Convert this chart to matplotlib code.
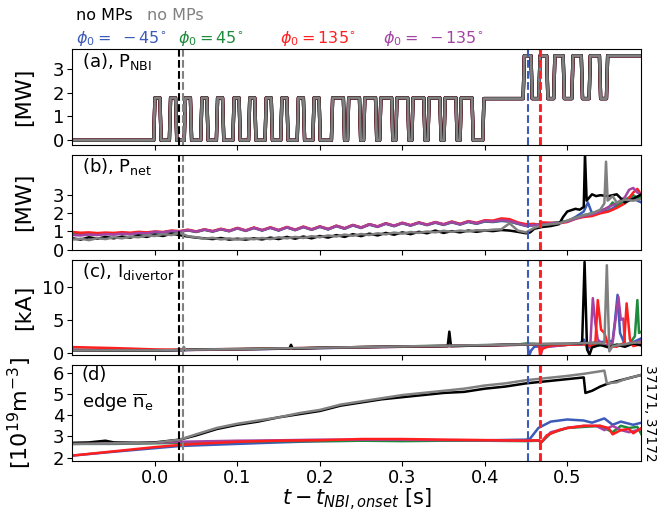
import matplotlib
matplotlib.use("Agg")
import matplotlib.pyplot as plt

# colours per shot
c_blue = "#3c5ab8"
c_green = "#1e8a3c"
c_red = "#ff1f1f"
c_mag = "#a443a4"
c_black = "black"
c_gray = "gray"

# --- (a) NBI power: pulse on/off times [s] ---
nbi_on1 = [0.000, 0.019, 0.037, 0.057, 0.076, 0.096, 0.115, 0.135, 0.154, 0.174, 0.193,
           0.2155, 0.235, 0.2545, 0.274, 0.2935, 0.313, 0.3325, 0.352, 0.3715]
nbi_off1 = [0.006, 0.025, 0.043, 0.063, 0.082, 0.102, 0.121, 0.141, 0.160, 0.180, 0.199,
            0.2285, 0.248, 0.2675, 0.287, 0.3065, 0.326, 0.3455, 0.365, 0.3845]
nbi_hi1 = 1.78
nbi_mid = 1.75
nbi_plateau_start = 0.399
nbi_on2 = [0.448, 0.467, 0.485, 0.507, 0.528]
nbi_off2 = [0.456, 0.475, 0.495, 0.517, 0.539]
nbi_hi2 = 3.55
nbi_final_start = 0.549

# --- shared time base for (b) [s] ---
t_main = [-0.10, -0.09, -0.08, -0.07, -0.06, -0.05, -0.04, -0.03, -0.02, -0.01,
          0.00, 0.01, 0.02, 0.03, 0.04, 0.05, 0.06, 0.07, 0.08, 0.09,
          0.10, 0.11, 0.12, 0.13, 0.14, 0.15, 0.16, 0.17, 0.18, 0.19,
          0.20, 0.21, 0.22, 0.23, 0.24, 0.25, 0.26, 0.27, 0.28, 0.29,
          0.30, 0.31, 0.32, 0.33, 0.34, 0.35, 0.36, 0.37, 0.38, 0.39,
          0.40, 0.41, 0.42, 0.43, 0.44]

# --- (b) P_net [MW] ---
pnet_red = [0.97, 0.93, 0.95, 0.91, 0.94, 0.92, 0.96, 0.93, 0.98, 0.95,
            1.00, 0.97, 1.05, 1.02, 1.10, 1.00, 1.12, 1.02, 1.15, 1.04,
            1.20, 1.06, 1.22, 1.08, 1.23, 1.08, 1.25, 1.10, 1.27, 1.12,
            1.28, 1.14, 1.32, 1.18, 1.36, 1.22, 1.40, 1.28, 1.45, 1.32,
            1.48, 1.35, 1.50, 1.38, 1.52, 1.40, 1.55, 1.42, 1.57, 1.48,
            1.62, 1.60, 1.72, 1.68, 1.50]
pnet_red_tt = [0.45, 0.46, 0.465, 0.47, 0.48, 0.49, 0.50, 0.51, 0.52, 0.53, 0.54, 0.55,
               0.56, 0.57, 0.575, 0.58, 0.585, 0.59]
pnet_red_tv = [1.40, 1.42, 1.35, 1.50, 1.48, 1.45, 1.52, 1.70, 1.80, 1.85, 2.00, 2.10,
               2.30, 2.55, 2.85, 3.15, 3.35, 3.00]

pnet_blue = [0.85, 0.82, 0.86, 0.83, 0.87, 0.84, 0.88, 0.86, 0.90, 0.88,
             0.95, 0.93, 1.00, 0.98, 1.06, 0.97, 1.09, 0.99, 1.12, 1.01,
             1.17, 1.03, 1.19, 1.05, 1.20, 1.05, 1.22, 1.07, 1.24, 1.09,
             1.25, 1.11, 1.29, 1.15, 1.33, 1.19, 1.37, 1.25, 1.42, 1.29,
             1.45, 1.32, 1.47, 1.35, 1.48, 1.36, 1.50, 1.38, 1.52, 1.42,
             1.55, 1.52, 1.58, 1.55, 1.42]
pnet_blue_tt = [0.45, 0.46, 0.47, 0.48, 0.49, 0.50, 0.51, 0.515, 0.52, 0.525, 0.53,
                0.54, 0.55, 0.56, 0.57, 0.58, 0.585, 0.59]
pnet_blue_tv = [1.30, 1.35, 1.40, 1.45, 1.50, 1.55, 1.80, 1.95, 2.10, 2.60, 2.00,
                2.05, 2.15, 2.40, 2.70, 2.85, 2.70, 2.60]

pnet_green = [0.88, 0.85, 0.88, 0.86, 0.89, 0.87, 0.90, 0.88, 0.92, 0.90,
              0.97, 0.95, 1.02, 0.99, 1.07, 0.98, 1.10, 1.00, 1.13, 1.02,
              1.18, 1.04, 1.20, 1.06, 1.21, 1.06, 1.23, 1.08, 1.25, 1.10,
              1.27, 1.12, 1.31, 1.16, 1.35, 1.21, 1.40, 1.27, 1.45, 1.30,
              1.47, 1.33, 1.49, 1.36, 1.50, 1.38, 1.52, 1.40, 1.54, 1.44,
              1.57, 1.54, 1.60, 1.56, 1.44]
pnet_green_tt = [0.45, 0.46, 0.47, 0.48, 0.49, 0.50, 0.51, 0.52, 0.53, 0.54, 0.55,
                 0.555, 0.56, 0.57, 0.58, 0.585, 0.59]
pnet_green_tv = [1.32, 1.36, 1.42, 1.46, 1.50, 1.58, 1.75, 1.90, 2.00, 2.15, 2.30,
                 2.60, 2.40, 2.75, 3.00, 2.85, 2.90]

pnet_mag = [0.80, 0.78, 0.83, 0.80, 0.85, 0.83, 0.88, 0.85, 0.92, 0.90,
            0.98, 0.95, 1.03, 1.00, 1.08, 0.99, 1.11, 1.01, 1.13, 1.03,
            1.18, 1.05, 1.20, 1.07, 1.21, 1.07, 1.23, 1.09, 1.25, 1.11,
            1.27, 1.13, 1.31, 1.17, 1.35, 1.21, 1.40, 1.27, 1.44, 1.31,
            1.47, 1.34, 1.49, 1.37, 1.51, 1.39, 1.53, 1.40, 1.55, 1.45,
            1.58, 1.55, 1.62, 1.58, 1.45]
pnet_mag_tt = [0.45, 0.46, 0.47, 0.48, 0.49, 0.50, 0.51, 0.52, 0.53, 0.54, 0.55,
               0.56, 0.57, 0.575, 0.58, 0.585, 0.59]
pnet_mag_tv = [1.32, 1.36, 1.38, 1.45, 1.48, 1.55, 1.70, 1.85, 1.95, 2.10, 2.35,
               2.55, 2.90, 3.30, 3.40, 3.15, 3.05]

pnet_black = [0.62, 0.55, 0.68, 0.60, 0.70, 0.62, 0.72, 0.66, 0.78, 0.70,
              0.82, 0.75, 0.88, 0.80, 0.72, 0.66, 0.62, 0.58, 0.64, 0.55,
              0.60, 0.55, 0.62, 0.56, 0.66, 0.58, 0.70, 0.60, 0.72, 0.62,
              0.75, 0.66, 0.80, 0.70, 0.85, 0.74, 0.88, 0.78, 0.92, 0.82,
              0.95, 0.85, 0.98, 0.90, 1.05, 0.92, 1.02, 0.95, 1.05, 0.98,
              1.05, 1.02, 1.08, 1.05, 0.98]
pnet_black_tt = [0.45, 0.455, 0.46, 0.47, 0.48, 0.49, 0.495, 0.50, 0.51, 0.515, 0.52,
                 0.5215, 0.5235, 0.53, 0.535, 0.54, 0.55, 0.56, 0.57, 0.58, 0.59]
pnet_black_tv = [0.90, 0.95, 1.15, 1.25, 1.30, 1.40, 1.80, 2.10, 2.25, 2.20, 2.35,
                 5.30, 2.70, 3.05, 2.95, 3.00, 2.95, 3.05, 2.60, 2.80, 3.05]

pnet_gray = [0.55, 0.60, 0.52, 0.63, 0.58, 0.68, 0.62, 0.72, 0.68, 0.78,
             0.75, 0.85, 0.80, 0.92, 0.74, 0.68, 0.60, 0.65, 0.56, 0.62,
             0.55, 0.62, 0.57, 0.64, 0.58, 0.68, 0.62, 0.70, 0.64, 0.74,
             0.68, 0.78, 0.72, 0.83, 0.76, 0.86, 0.80, 0.90, 0.84, 0.94,
             0.88, 0.97, 0.92, 1.00, 0.95, 1.04, 0.98, 1.05, 1.00, 1.07,
             1.05, 1.10, 1.12, 1.45, 1.05]
pnet_gray_tt = [0.45, 0.46, 0.47, 0.48, 0.49, 0.50, 0.51, 0.52, 0.53, 0.54, 0.545,
                0.547, 0.549, 0.555, 0.56, 0.57, 0.58, 0.59]
pnet_gray_tv = [0.95, 1.20, 1.35, 1.40, 1.45, 1.60, 1.75, 1.90, 2.00, 2.20, 2.55,
                4.85, 2.70, 2.95, 2.60, 2.75, 2.70, 2.80]

# --- (c) divertor current [kA] ---
idiv_blue_t = [-0.10, -0.05, 0.00, 0.03, 0.05, 0.10, 0.15, 0.20, 0.25, 0.30, 0.35, 0.40, 0.44,
               0.452, 0.4535, 0.456, 0.46, 0.48, 0.50, 0.515, 0.52, 0.525, 0.53, 0.54, 0.555,
               0.558, 0.561, 0.564, 0.57, 0.58, 0.59]
idiv_blue = [0.45, 0.40, 0.35, 0.40, 0.45, 0.50, 0.60, 0.70, 0.80, 0.90, 1.00, 1.10, 1.20,
             1.30, -0.60, 0.30, 0.90, 1.10, 1.20, 1.40, 2.00, 0.50, 1.50, 1.60, 1.80,
             5.00, 8.80, 3.00, 1.20, 1.60, 2.20]
idiv_green_t = [-0.10, -0.05, 0.00, 0.03, 0.05, 0.10, 0.15, 0.20, 0.25, 0.30, 0.35, 0.40, 0.44,
                0.45, 0.467, 0.47, 0.50, 0.52, 0.54, 0.56, 0.575, 0.582, 0.585, 0.587, 0.59]
idiv_green = [0.40, 0.38, 0.35, 0.40, 0.45, 0.52, 0.62, 0.72, 0.85, 0.95, 1.05, 1.15, 1.25,
              1.40, 1.30, 0.90, 1.20, 1.30, 1.10, 1.20, 1.30, 2.50, 8.00, 3.00, 3.20]
idiv_mag_t = [-0.10, -0.05, 0.00, 0.03, 0.05, 0.10, 0.15, 0.20, 0.25, 0.30, 0.35, 0.40, 0.44,
              0.466, 0.468, 0.47, 0.50, 0.528, 0.531, 0.534, 0.537, 0.545, 0.555, 0.562,
              0.565, 0.568, 0.57, 0.58, 0.59]
idiv_mag = [0.35, 0.33, 0.32, 0.38, 0.42, 0.50, 0.60, 0.70, 0.82, 0.92, 1.02, 1.12, 1.22,
            1.20, -0.30, 0.80, 1.20, 1.30, 8.30, 4.50, 2.00, 1.00, 1.50, 8.50,
            5.00, 5.20, 1.00, 1.50, 1.80]
idiv_red_t = [-0.10, -0.05, 0.00, 0.03, 0.05, 0.10, 0.15, 0.20, 0.25, 0.30, 0.35, 0.40, 0.44,
              0.45, 0.46, 0.466, 0.467, 0.47, 0.48, 0.50, 0.52, 0.53, 0.534, 0.537, 0.541,
              0.545, 0.55, 0.56, 0.569, 0.572, 0.576, 0.58, 0.59]
idiv_red = [0.85, 0.70, 0.50, 0.45, 0.50, 0.55, 0.65, 0.75, 0.85, 0.90, 1.00, 1.10, 1.20,
            1.25, 1.30, 1.20, -0.40, 0.60, 1.10, 1.20, 1.30, 0.90, 1.30, 8.00, 3.50,
            3.00, 1.00, 0.90, 1.50, 7.50, 2.00, 1.00, 1.30]
idiv_black_t = [-0.10, -0.05, 0.00, 0.03, 0.05, 0.10, 0.163, 0.165, 0.167, 0.20, 0.25, 0.30,
                0.355, 0.357, 0.359, 0.40, 0.44, 0.46, 0.50, 0.518, 0.521, 0.524, 0.527,
                0.53, 0.54, 0.55, 0.56, 0.57, 0.58, 0.59]
idiv_black = [0.35, 0.30, 0.30, 0.40, 0.50, 0.55, 0.62, 1.20, 0.62, 0.75, 0.85, 0.95,
              1.00, 3.20, 1.00, 1.10, 1.25, 1.30, 1.35, 1.40, 13.8, 0.50, -0.30,
              0.80, 1.20, 0.80, 1.20, 0.90, 1.40, 1.10]
idiv_gray_t = [-0.10, -0.05, 0.00, 0.033, 0.035, 0.037, 0.10, 0.15, 0.20, 0.25, 0.30, 0.35,
               0.40, 0.44, 0.50, 0.53, 0.545, 0.548, 0.551, 0.555, 0.57, 0.58, 0.59]
idiv_gray = [0.35, 0.35, 0.35, 0.40, 0.90, 0.45, 0.55, 0.65, 0.75, 0.85, 0.95, 1.05,
             1.15, 1.25, 1.35, 1.50, 1.40, 13.3, 0.20, 1.00, 1.30, 1.50, 1.60]

# --- (d) edge line-averaged density [1e19 m^-3] ---
ne_black_t = [-0.10, -0.08, -0.06, -0.05, -0.02, 0.00, 0.03, 0.05, 0.075, 0.10, 0.125, 0.15,
              0.175, 0.20, 0.225, 0.25, 0.275, 0.30, 0.325, 0.35, 0.375, 0.40, 0.425, 0.45,
              0.475, 0.50, 0.52, 0.522, 0.53, 0.54, 0.55, 0.56, 0.57, 0.58, 0.59]
ne_black = [2.70, 2.72, 2.80, 2.72, 2.70, 2.72, 2.85, 3.05, 3.35, 3.55, 3.70, 3.90,
            4.05, 4.20, 4.45, 4.60, 4.75, 4.85, 4.95, 5.05, 5.10, 5.25, 5.35, 5.50,
            5.60, 5.70, 5.78, 5.05, 5.15, 5.35, 5.50, 5.60, 5.70, 5.80, 5.90]
ne_gray_t = [-0.10, -0.05, 0.00, 0.03, 0.05, 0.075, 0.10, 0.125, 0.15, 0.175, 0.20, 0.225,
             0.25, 0.275, 0.30, 0.325, 0.35, 0.375, 0.40, 0.425, 0.45, 0.475, 0.50, 0.52,
             0.545, 0.548, 0.56, 0.57, 0.58, 0.59]
ne_gray = [2.65, 2.68, 2.70, 2.85, 3.10, 3.40, 3.60, 3.75, 3.90, 4.10, 4.25, 4.50,
           4.65, 4.80, 4.95, 5.05, 5.15, 5.25, 5.40, 5.50, 5.65, 5.75, 5.85, 5.95,
           6.10, 5.50, 5.55, 5.70, 5.80, 5.90]
ne_red_t = [-0.10, -0.05, 0.00, 0.03, 0.05, 0.10, 0.15, 0.20, 0.25, 0.30, 0.35, 0.40, 0.45,
            0.466, 0.468, 0.475, 0.49, 0.50, 0.52, 0.54, 0.55, 0.555, 0.565, 0.575, 0.58, 0.59]
ne_red = [2.10, 2.30, 2.50, 2.60, 2.65, 2.75, 2.80, 2.82, 2.88, 2.88, 2.85, 2.83, 2.80,
          2.82, 2.70, 3.05, 3.30, 3.40, 3.50, 3.50, 3.40, 3.10, 3.30, 3.35, 3.15, 3.40]
ne_blue_t = [-0.10, -0.05, 0.00, 0.03, 0.05, 0.10, 0.15, 0.20, 0.25, 0.30, 0.35, 0.40, 0.45,
             0.455, 0.465, 0.48, 0.50, 0.52, 0.53, 0.545, 0.555, 0.565, 0.58, 0.59]
ne_blue = [2.10, 2.28, 2.45, 2.55, 2.58, 2.65, 2.72, 2.78, 2.80, 2.82, 2.82, 2.82, 2.85,
           2.90, 3.40, 3.70, 3.80, 3.75, 3.65, 3.85, 3.55, 3.70, 3.55, 3.65]
ne_green_t = [-0.10, -0.05, 0.00, 0.03, 0.10, 0.15, 0.20, 0.25, 0.30, 0.35, 0.40, 0.45,
              0.466, 0.468, 0.48, 0.50, 0.52, 0.54, 0.555, 0.565, 0.575, 0.585, 0.59]
ne_green = [2.65, 2.65, 2.68, 2.70, 2.75, 2.78, 2.78, 2.80, 2.78, 2.80, 2.80, 2.78,
            2.80, 2.70, 3.15, 3.40, 3.45, 3.50, 3.20, 3.50, 3.40, 3.45, 3.10]
ne_mag_t = [-0.10, -0.05, 0.00, 0.03, 0.10, 0.15, 0.20, 0.25, 0.30, 0.35, 0.40, 0.45,
            0.466, 0.468, 0.48, 0.50, 0.52, 0.535, 0.545, 0.555, 0.565, 0.575, 0.59]
ne_mag = [2.65, 2.68, 2.70, 2.75, 2.80, 2.82, 2.85, 2.85, 2.85, 2.83, 2.82, 2.80,
          2.82, 2.72, 3.20, 3.40, 3.50, 3.50, 3.30, 3.50, 3.30, 3.20, 3.35]

# times of the vertical markers [s]
vline_t = [0.0294, 0.0343, 0.453, 0.468, 0.4665]
vline_c = [c_black, c_gray, c_blue, c_mag, c_red]


def pulse_train(on, off, lo, hi, ramp=0.0015):
    t, v = [], []
    for a, b in zip(on, off):
        t += [a - ramp, a, b, b + ramp]
        v += [lo, hi, hi, lo]
    return t, v


# build the NBI waveform from the on/off lists
p1t, p1v = pulse_train(nbi_on1, nbi_off1, 0.0, nbi_hi1)
p2t, p2v = pulse_train(nbi_on2, nbi_off2, nbi_mid, nbi_hi2)
nbi_t = [-0.10] + p1t + [nbi_plateau_start - 0.0015, nbi_plateau_start] + p2t + \
        [nbi_final_start - 0.0015, nbi_final_start, 0.59]
nbi_v = [0.0] + p1v + [0.0, nbi_mid] + p2v + [nbi_mid, nbi_hi2, nbi_hi2]

fig, axs = plt.subplots(4, 1, figsize=(6.71, 5.13), dpi=100, sharex=True)
fig.subplots_adjust(left=0.108, right=0.956, top=0.904, bottom=0.102, hspace=0.105)
ax1, ax2, ax3, ax4 = axs

# (a)
for c in [c_blue, c_green, c_mag, c_red, c_black]:
    ax1.plot(nbi_t, nbi_v, color=c, lw=2.4)
ax1.plot(nbi_t, nbi_v, color=c_gray, lw=2.0)
ax1.set_ylim(-0.18, 3.82)
ax1.set_yticks([0, 1, 2, 3])

# (b)
lw = 1.8
ax2.plot(t_main + pnet_blue_tt, pnet_blue + pnet_blue_tv, color=c_blue, lw=lw)
ax2.plot(t_main + pnet_green_tt, pnet_green + pnet_green_tv, color=c_green, lw=lw)
ax2.plot(t_main + pnet_red_tt, pnet_red + pnet_red_tv, color=c_red, lw=lw)
ax2.plot(t_main + pnet_mag_tt, pnet_mag + pnet_mag_tv, color=c_mag, lw=lw)
ax2.plot(t_main + pnet_black_tt, pnet_black + pnet_black_tv, color=c_black, lw=lw)
ax2.plot(t_main + pnet_gray_tt, pnet_gray + pnet_gray_tv, color=c_gray, lw=lw)
ax2.set_ylim(-0.02, 5.24)
ax2.set_yticks([0, 1, 2, 3])

# (c)
ax3.plot(idiv_blue_t, idiv_blue, color=c_blue, lw=lw)
ax3.plot(idiv_green_t, idiv_green, color=c_green, lw=lw)
ax3.plot(idiv_mag_t, idiv_mag, color=c_mag, lw=lw)
ax3.plot(idiv_red_t, idiv_red, color=c_red, lw=lw)
ax3.plot(idiv_black_t, idiv_black, color=c_black, lw=lw)
ax3.plot(idiv_gray_t, idiv_gray, color=c_gray, lw=lw)
ax3.set_ylim(-0.4, 14.1)
ax3.set_yticks([0, 5, 10])

# (d)
ax4.plot(ne_blue_t, ne_blue, color=c_blue, lw=lw)
ax4.plot(ne_green_t, ne_green, color=c_green, lw=lw)
ax4.plot(ne_mag_t, ne_mag, color=c_mag, lw=lw)
ax4.plot(ne_red_t, ne_red, color=c_red, lw=lw)
ax4.plot(ne_black_t, ne_black, color=c_black, lw=lw)
ax4.plot(ne_gray_t, ne_gray, color=c_gray, lw=lw)
ax4.set_ylim(1.86, 6.35)
ax4.set_yticks([2, 3, 4, 5, 6])

for ax in axs:
    for x, c in zip(vline_t, vline_c):
        ax.axvline(x, color=c, ls="--", lw=1.5)
    ax.tick_params(labelsize=13, pad=2.5)
    ax.yaxis.set_label_coords(-0.068, 0.5)

ax4.set_xlim(-0.10, 0.59)
ax4.set_xticks([0.0, 0.1, 0.2, 0.3, 0.4, 0.5])

ax1.set_ylabel("[MW]", fontsize=16)
ax2.set_ylabel("[MW]", fontsize=16)
ax3.set_ylabel("[kA]", fontsize=16)
ax4.set_ylabel(r"[$10^{19}$m$^{-3}$]", fontsize=16)
ax4.set_xlabel(r"$t - t_{NBI,onset}$ [s]", fontsize=15, labelpad=0)

ax1.text(0.016, 0.87, r"(a), $\mathrm{P_{NBI}}$", transform=ax1.transAxes, fontsize=13, va="center")
ax2.text(0.016, 0.88, r"(b), $\mathrm{P_{net}}$", transform=ax2.transAxes, fontsize=13, va="center")
ax3.text(0.016, 0.88, r"(c), $\mathrm{I_{divertor}}$", transform=ax3.transAxes, fontsize=13, va="center")
ax4.text(0.016, 0.90, "(d)", transform=ax4.transAxes, fontsize=13, va="center")
ax4.text(0.016, 0.61, r"edge $\mathrm{\overline{n}_e}$", transform=ax4.transAxes, fontsize=13, va="center")
ax4.text(1.003, 0.5, "37171, 37172", transform=ax4.transAxes, rotation=-90,
         fontsize=10, va="center", ha="left")

# legend-like labels on top
fig.text(0.114, 0.969, "no MPs", color=c_black, fontsize=11.5, va="center")
fig.text(0.219, 0.969, "no MPs", color=c_gray, fontsize=11.5, va="center")
fig.text(0.113, 0.924, r"$\phi_0 = \,\,-45^{\circ}$", color=c_blue, fontsize=11.5, va="center")
fig.text(0.266, 0.924, r"$\phi_0 = 45^{\circ}$", color=c_green, fontsize=11.5, va="center")
fig.text(0.417, 0.924, r"$\phi_0 = 135^{\circ}$", color=c_red, fontsize=11.5, va="center")
fig.text(0.571, 0.924, r"$\phi_0 = \,\,-135^{\circ}$", color=c_mag, fontsize=11.5, va="center")

fig.savefig("out.png", dpi=100)
